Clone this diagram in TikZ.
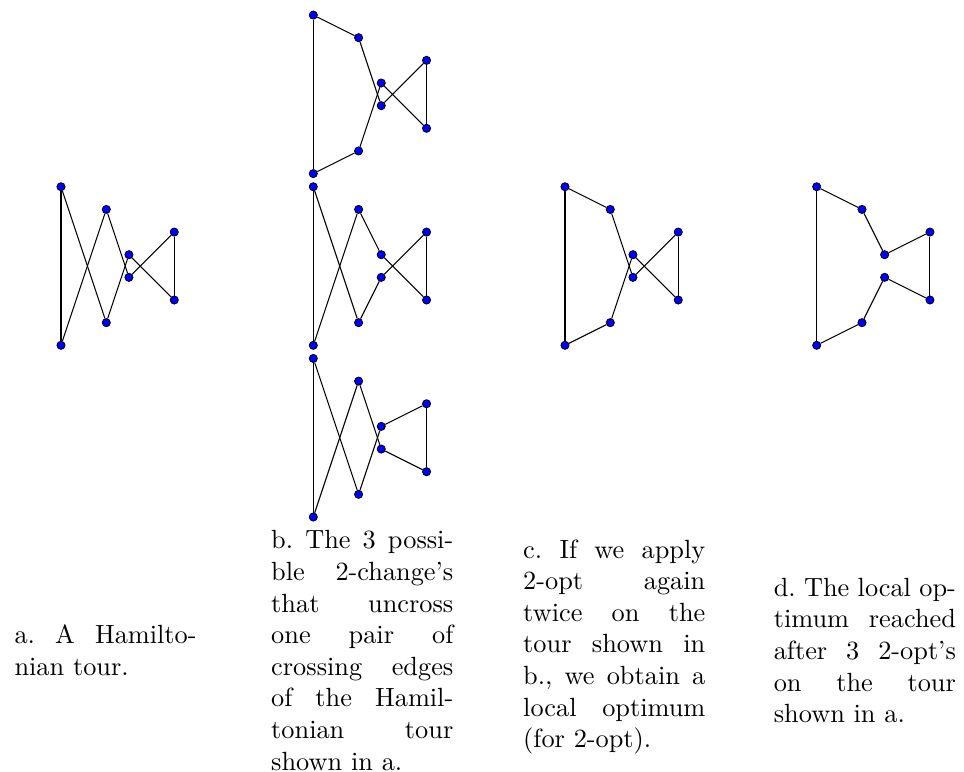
\documentclass[tikz,border=0pt]{standalone}
\tikzset{
  city/.style={circle, fill=blue, draw=black, line width=0.3pt, inner sep=0pt, minimum size=3.1pt},
  tourline/.style={draw=black, line width=0.4pt},
  caption/.style={anchor=west, inner sep=0pt, text width=69.2pt, align=justify, font=\fontsize{10}{12}\selectfont\frenchspacing},
}
\newcommand{\placetour}[4]{%
  \begin{scope}[shift={(#2,#3)}, x=8.607pt, y=8.607pt]
    \node[city] (#1A) at (0,7) {};
    \node[city] (#1B) at (2,6) {};
    \node[city] (#1C) at (3,4) {};
    \node[city] (#1D) at (3,3) {};
    \node[city] (#1E) at (5,5) {};
    \node[city] (#1F) at (5,2) {};
    \node[city] (#1G) at (2,1) {};
    \node[city] (#1H) at (0,0) {};
    \foreach \p/\q in {#4} {\draw[tourline] (#1\p) -- (#1\q);}
  \end{scope}}
\begin{document}
\begin{tikzpicture}[x=0.38pt, y=-0.38pt]
  \useasboundingbox (0,0) rectangle (964,772);
  % a
  \placetour{a}{61}{345.3}{A/H,A/G,G/C,C/F,F/E,E/D,D/B,B/H}
  % b
  \placetour{bt}{313.3}{173.6}{A/H,A/B,B/D,D/E,E/F,F/C,C/G,G/H}
  \placetour{bm}{313.3}{345.3}{A/H,A/G,G/D,D/E,E/F,F/C,C/B,B/H}
  \placetour{bb}{313.3}{517.0}{A/H,A/G,G/C,C/E,E/F,F/D,D/B,B/H}
  % c
  \placetour{c}{565}{345.3}{A/H,A/B,B/D,D/E,E/F,F/C,C/G,G/H}
  % d
  \placetour{d}{816.7}{345.3}{A/H,A/B,B/C,C/E,E/F,F/D,D/G,G/H}
  % captions
  \node[caption] (capa) at (14,650.5) {a. A Hamilto-\linebreak nian tour.};
  \node[caption] (capb) at (270.7,650.5) {b. The 3 possi-\linebreak ble 2-change’s\linebreak that uncross\linebreak one pair of\linebreak crossing edges\linebreak of the Hamil-\linebreak tonian tour\linebreak shown in a.};
  \node[caption] (capc) at (522.7,647) {c. If we apply\linebreak 2-opt again\linebreak twice on the\linebreak tour shown in\linebreak b., we obtain a\linebreak local optimum\linebreak (for 2-opt).};
  \node[caption] (capd) at (773.3,650.5) {d. The local op-\linebreak timum reached\linebreak after 3 2-opt’s\linebreak on the tour\linebreak shown in a.};
\end{tikzpicture}
\end{document}
